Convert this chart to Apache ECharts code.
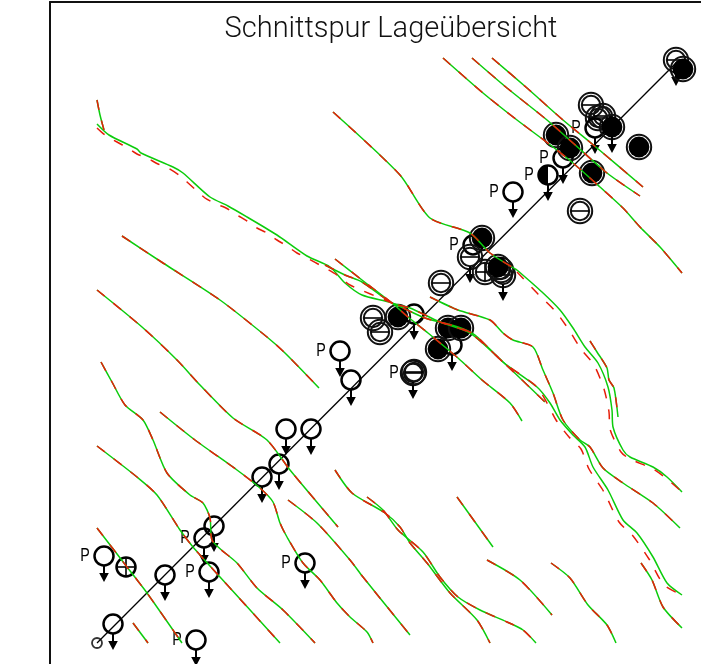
<!DOCTYPE html>
<html><head><meta charset="utf-8">
<script src="https://cdn.jsdelivr.net/npm/echarts@6/dist/echarts.min.js"></script>
<style>html,body{margin:0;padding:0;background:#fff}#c{width:701px;height:664px}</style>
</head><body><div id="c"></div>
<script>
const titleText = 'Schnittspur Lageübersicht';
const surveyLine = [[97,643],[677,62]];
const smallCircle = [[97,643]];
// [x, y, kind, hasArrow, label]
const markers = [
 [113,624,'open',1,''],[165,575,'open',1,''],[104,556,'open',1,'P'],[126,567,'cross',0,''],
 [209,572,'open',1,'P'],[196,640,'open',1,'P'],[204,538,'open',1,'P'],[214,526,'open',1,''],
 [305,563,'open',1,'P'],[262,477,'open',1,''],[279,464,'open',1,''],[286,429,'open',1,''],
 [311,429,'open',1,''],[351,380,'open',1,''],[340,351,'open',1,'P'],
 [413,373,'barred',1,'P'],[414,372,'barred',0,''],
 [452,345,'open',1,''],[414,314,'open',1,''],
 [373,318,'barred',0,''],[380,332,'barred',0,''],[398,317,'filled',0,''],
 [438,349,'filled',0,''],[448,328,'filled',0,''],[461,328,'filled',0,''],
 [441,283,'barred',0,''],[473,245,'open',0,'P'],[482,238,'filled',0,''],[470,257,'barred',1,''],
 [485,272,'crossDouble',0,''],[503,275,'barred',1,''],[501,270,'barred',0,''],[498,267,'filled',0,''],
 [513,192,'open',1,'P'],[548,175,'half',1,'P'],[563,158,'open',1,'P'],
 [556,135,'filled',0,''],[570,148,'filled',0,''],[592,173,'filled',0,''],
 [580,211,'barred',0,''],[639,147,'filled',0,''],
 [591,105,'barred',0,''],[598,118,'barred',0,''],[603,116,'barred',0,''],[595,128,'open',1,'P'],
 [612,127,'filled',1,''],[676,60,'barred',1,''],[683,69,'filled',0,'']
];
const lineShortTop = [[97,100],[100,115],[104,130]];
const lineAGreen = [[97,124],[109,135],[137,149],[141,153],[173,167],[183,173],[210,197],[228,206],[247,217],[277,235],[307,256],[330,267],[345,283],[362,295],[392,303],[425,318],[458,327],[475,335],[503,362],[537,387],[550,403],[560,420],[573,435],[585,447],[593,467],[608,490],[623,520],[637,533],[653,557],[667,583],[682,595]];
const lineARed = [[97,128],[105,135],[117,142],[126,147],[137,154],[147,158],[158,164],[168,168],[179,175],[187,182],[197,191],[205,198],[216,204],[226,208],[237,215],[247,221],[257,228],[267,233],[277,240],[287,246],[297,253],[307,258],[318,264],[337,275],[350,285],[392,303],[425,318],[458,327],[475,335],[503,362],[537,387],[547,403],[556,420],[569,437],[581,449],[589,469],[604,492],[619,522],[633,536],[649,559],[664,585],[682,595]];
const lineB = [[335,259],[362,280],[392,303],[408,317],[428,333],[458,358],[482,380],[510,403],[522,421]];
const lineC = [[325,265],[345,275],[362,282],[392,303],[410,308],[440,322],[470,333],[503,362],[545,402]];
const lineD = [[430,297],[458,310],[490,320],[503,333],[513,340],[533,347],[543,370],[553,393],[563,420],[580,440],[590,447],[603,468],[623,483],[653,503],[680,528]];
const lineE = [[333,112],[400,175],[430,218],[470,233],[490,253],[517,270]];
const lineEGreen2 = [[517,270],[542,292],[560,310],[573,328],[585,347],[598,363],[608,387],[612,410],[613,427],[623,450],[630,457],[653,467],[667,477],[682,492]];
const lineERed2 = [[517,272],[538,294],[556,312],[569,330],[581,349],[594,365],[604,389],[609,412],[610,429],[621,452],[630,459],[653,469],[667,479],[682,492]];
const lineF = [[590,341],[597,352],[607,368],[609,380],[614,388],[618,417]];
const lineG = [[122,236],[163,263],[220,300],[267,337],[285,353],[319,388]];
const lineH = [[97,290],[142,327],[177,360],[200,385],[233,418],[267,440],[290,470],[338,527]];
const lineI = [[101,362],[112,382],[125,405],[143,420],[153,440],[167,473],[190,495],[203,503],[210,518],[212,540],[237,563],[257,588],[283,610],[315,643]];
const lineJ = [[160,412],[195,440],[237,470],[260,488],[273,502],[280,523],[287,537],[303,563],[320,580],[337,603],[350,617],[367,632],[373,643]];
const lineK = [[97,446],[137,477],[157,495],[180,530],[193,547],[220,577],[280,643]];
const lineL = [[97,528],[127,567],[147,593],[182,643]];
const lineM = [[133,623],[148,643]];
const lineN = [[288,500],[317,523],[350,560],[363,577],[410,635]];
const lineO = [[335,470],[352,493],[385,513],[400,527],[410,543],[427,563],[450,593],[477,620],[490,643]];
const lineP = [[367,497],[383,510],[398,530],[423,552],[440,577],[458,597],[480,610],[507,622],[523,630],[536,643]];
const lineQ = [[457,497],[493,547]];
const lineR = [[487,560],[520,580],[552,615]];
const lineS = [[551,563],[570,578],[588,605],[607,625],[616,643]];
const lineT = [[641,563],[652,580],[663,607],[682,628]];
const lineU = [[443,58],[483,93],[517,120],[553,147],[573,163],[600,187],[623,208],[640,227],[660,247],[682,273]];
const lineV = [[472,58],[507,88],[547,120],[573,143],[607,173],[640,196]];
const lineW = [[492,58],[527,88],[563,120],[597,148],[643,187]];

const traces = [
 [lineShortTop],[lineAGreen,lineARed],[lineB],[lineC],[lineD],[lineE],[lineEGreen2,lineERed2],[lineF],
 [lineG],[lineH],[lineI],[lineJ],[lineK],[lineL],[lineM],[lineN],[lineO],[lineP],[lineQ],[lineR],[lineS],[lineT],[lineU],[lineV],[lineW]
];

function ring(cx,cy,r,lw,col){return {type:'circle',shape:{cx,cy,r},style:{fill:'none',stroke:col||'#000',lineWidth:lw}};}
function renderMarker(params,api){
  const m = markers[params.dataIndex];
  const p = api.coord([m[0],m[1]]);
  const x = p[0], y = p[1], kids = [];
  const k = m[2];
  const bar = (r)=>({type:'line',shape:{x1:x-r,y1:y,x2:x+r,y2:y},style:{stroke:'#000',lineWidth:1.6}});
  const vbar = (r)=>({type:'line',shape:{x1:x,y1:y-r,x2:x,y2:y+r},style:{stroke:'#000',lineWidth:1.6}});
  if(k==='open') kids.push(ring(x,y,9.5,2.5));
  if(k==='half'){
    kids.push({type:'sector',shape:{cx:x,cy:y,r:9.5,r0:0,startAngle:Math.PI/2,endAngle:Math.PI*1.5},style:{fill:'#000'}});
    kids.push(ring(x,y,9.5,2.5));
  }
  if(k==='filled'){
    kids.push(ring(x,y,12.2,2,'#111'));
    kids.push({type:'circle',shape:{cx:x,cy:y,r:10.4},style:{fill:'#000'}});
  }
  if(k==='barred'){
    kids.push(ring(x,y,12.2,2,'#111'));
    kids.push(ring(x,y,9.2,2,'#111'));
    kids.push(bar(9));
  }
  if(k==='cross'){
    kids.push(ring(x,y,9.5,2.5));kids.push(bar(9.5));kids.push(vbar(9.5));
  }
  if(k==='crossDouble'){
    kids.push(ring(x,y,12.2,2,'#111'));kids.push(ring(x,y,9.2,2,'#111'));kids.push(bar(9));kids.push(vbar(9));
  }
  if(m[3]){
    kids.push({type:'line',shape:{x1:x,y1:y+9,x2:x,y2:y+18},style:{stroke:'#000',lineWidth:2}});
    kids.push({type:'polygon',shape:{points:[[x-4.8,y+17],[x+4.8,y+17],[x,y+26]]},style:{fill:'#000'}});
  }
  if(m[4]){
    kids.push({type:'text',x:x-19,y:y,scaleX:0.75,style:{text:m[4],x:0,y:0,align:'center',verticalAlign:'middle',fill:'#000',
      font:'400 19px "Liberation Sans",sans-serif'}});
  }
  return {type:'group',children:kids};
}

const series = [];
series.push({type:'line',data:surveyLine,symbol:'none',z:2,lineStyle:{color:'#000',width:1.3},silent:true,animation:false});
series.push({type:'scatter',data:smallCircle,symbol:'circle',symbolSize:10,z:3,itemStyle:{color:'rgba(0,0,0,0)',borderColor:'#000',borderWidth:1.8},silent:true,animation:false});
series.push({type:'custom',data:markers.map(m=>[m[0],m[1]]),encode:{x:0,y:1},renderItem:renderMarker,z:3,clip:false,silent:true,animation:false});
traces.forEach(t=>{
  const g=t[0], r=t[1]||t[0];
  series.push({type:'line',data:g,symbol:'none',smooth:0.25,z:4,lineStyle:{color:'#0ccc0c',width:1.5},silent:true,animation:false});
  series.push({type:'line',data:r,symbol:'none',smooth:0.25,z:5,lineStyle:{color:'#e61e0a',width:1.5,type:[10,11]},silent:true,animation:false});
});

const chart = echarts.init(document.getElementById('c'),null,{renderer:'canvas'});
chart.setOption({
  animation:false,
  backgroundColor:'#fff',
  title:{text:titleText,left:390,top:10,textAlign:'center',textStyle:{fontFamily:'Roboto,"Liberation Sans",sans-serif',fontWeight:300,fontSize:29,color:'#111'}},
  grid:{left:50,right:0,top:2,bottom:0},
  xAxis:{type:'value',min:50,max:701,position:'top',axisLine:{show:true,onZero:false,lineStyle:{color:'#111',width:2}},axisTick:{show:false},axisLabel:{show:false},splitLine:{show:false}},
  yAxis:{type:'value',min:2,max:664,inverse:true,position:'left',axisLine:{show:true,onZero:false,lineStyle:{color:'#111',width:2}},axisTick:{show:false},axisLabel:{show:false},splitLine:{show:false}},
  series
});
chart.setOption({title:{left:386}});
</script></body></html>
